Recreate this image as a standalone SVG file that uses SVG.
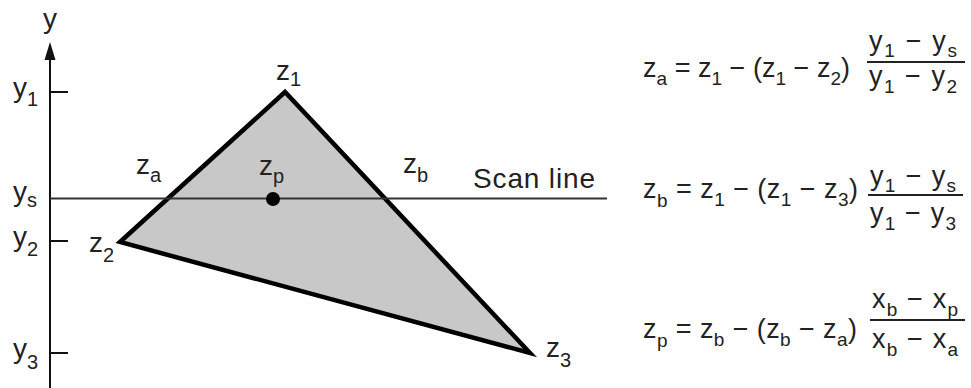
<svg xmlns="http://www.w3.org/2000/svg" width="971" height="388" viewBox="0 0 971 388">
<style>
.t{font-family:"Liberation Sans",Arial,sans-serif;font-size:28px;fill:#222}
.s{font-size:20px}
.f{font-family:"Liberation Sans",Arial,sans-serif;font-size:27px;fill:#222}
.fs{font-size:19px}
.ax{stroke:#111;stroke-width:2;fill:none}
.frac{stroke:#222;stroke-width:2}
</style>
<rect width="971" height="388" fill="#fff"/>
<g id="axis">
<line class="ax" x1="50" y1="55" x2="50" y2="388"/>
<polygon points="50,42 44.5,60 55.5,60" fill="#111"/>
<line class="ax" x1="50" y1="92" x2="68" y2="92"/>
<line class="ax" x1="50" y1="241" x2="68" y2="241"/>
<line class="ax" x1="50" y1="353" x2="68" y2="353"/>
<text class="t" x="43" y="28">y</text>
<text class="t" x="13" y="97">y<tspan class="s" dy="9">1</tspan></text>
<text class="t" x="13" y="201">y<tspan class="s" dy="6">s</tspan></text>
<text class="t" x="13" y="246">y<tspan class="s" dy="10">2</tspan></text>
<text class="t" x="13" y="358">y<tspan class="s" dy="11">3</tspan></text>
</g>
<g id="triangle">
<polygon points="285,92 120,242 530,353" fill="#c8c8c8" stroke="#000" stroke-width="4.5" stroke-linejoin="miter"/>
<text class="t" x="276" y="80">z<tspan class="s" dy="6">1</tspan></text>
<text class="t" x="89" y="252">z<tspan class="s" dy="10">2</tspan></text>
<text class="t" x="546" y="357">z<tspan class="s" dy="10">3</tspan></text>
</g>
<g id="scanline">
<line x1="50" y1="198.5" x2="607" y2="198.5" stroke="#333" stroke-width="1.8"/>
<text class="t" x="473" y="188" textLength="122">Scan line</text>
<text class="t" x="136" y="174">z<tspan class="s" dy="8">a</tspan></text>
<text class="t" x="259" y="175">z<tspan class="s" dy="8">p</tspan></text>
<text class="t" x="403" y="173">z<tspan class="s" dy="9">b</tspan></text>
<circle cx="273" cy="199" r="7" fill="#000"/>
</g>
<g id="formula-a">
<text class="f" x="643" y="77" textLength="207">z<tspan class="fs" dy="8">a</tspan><tspan dy="-8"> = z</tspan><tspan class="fs" dy="8">1</tspan><tspan dy="-8"> − (z</tspan><tspan class="fs" dy="8">1</tspan><tspan dy="-8"> − z</tspan><tspan class="fs" dy="8">2</tspan><tspan dy="-8">)</tspan></text>
<text class="f" x="869" y="50" textLength="88">y<tspan class="fs" dy="7">1</tspan><tspan dy="-7"> − y</tspan><tspan class="fs" dy="7">s</tspan></text>
<line class="frac" x1="867" y1="62" x2="965" y2="62"/>
<text class="f" x="869" y="85" textLength="88">y<tspan class="fs" dy="8">1</tspan><tspan dy="-8"> − y</tspan><tspan class="fs" dy="8">2</tspan></text>
</g>
<g id="formula-b">
<text class="f" x="643" y="198" textLength="215">z<tspan class="fs" dy="9">b</tspan><tspan dy="-9"> = z</tspan><tspan class="fs" dy="8">1</tspan><tspan dy="-8"> − (z</tspan><tspan class="fs" dy="8">1</tspan><tspan dy="-8"> − z</tspan><tspan class="fs" dy="8">3</tspan><tspan dy="-8">)</tspan></text>
<text class="f" x="870" y="185" textLength="86">y<tspan class="fs" dy="7">1</tspan><tspan dy="-7"> − y</tspan><tspan class="fs" dy="7">s</tspan></text>
<line class="frac" x1="868" y1="195" x2="963" y2="195"/>
<text class="f" x="870" y="222" textLength="86">y<tspan class="fs" dy="8">1</tspan><tspan dy="-8"> − y</tspan><tspan class="fs" dy="8">3</tspan></text>
</g>
<g id="formula-p">
<text class="f" x="643" y="338" textLength="214">z<tspan class="fs" dy="9">p</tspan><tspan dy="-9"> = z</tspan><tspan class="fs" dy="8">b</tspan><tspan dy="-8"> − (z</tspan><tspan class="fs" dy="8">b</tspan><tspan dy="-8"> − z</tspan><tspan class="fs" dy="8">a</tspan><tspan dy="-8">)</tspan></text>
<text class="f" x="872" y="308" textLength="86">x<tspan class="fs" dy="8">b</tspan><tspan dy="-8"> − x</tspan><tspan class="fs" dy="8">p</tspan></text>
<line class="frac" x1="870" y1="320" x2="965" y2="320"/>
<text class="f" x="872" y="348" textLength="86">x<tspan class="fs" dy="8">b</tspan><tspan dy="-8"> − x</tspan><tspan class="fs" dy="8">a</tspan></text>
</g>
</svg>
